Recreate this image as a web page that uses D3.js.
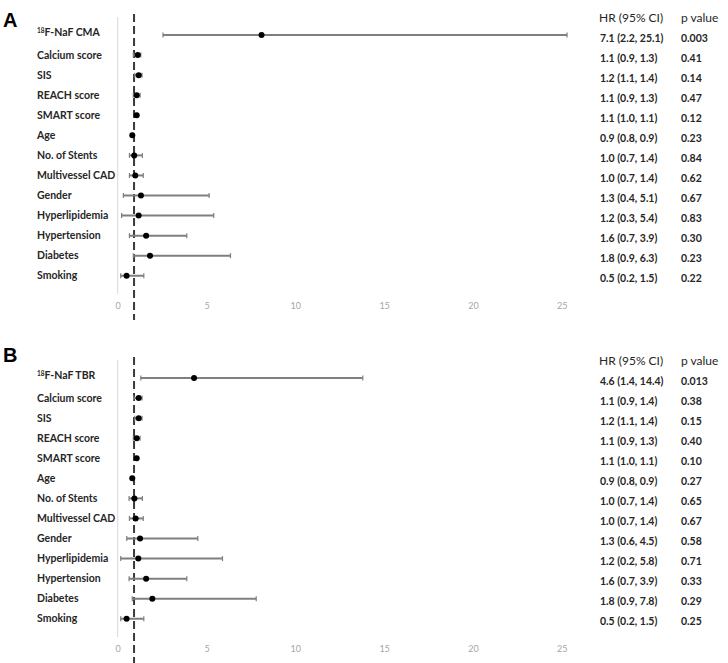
<!DOCTYPE html>
<html><head><meta charset="utf-8">
<script src="https://cdn.jsdelivr.net/npm/d3@7"></script>
<style>
html,body{margin:0;padding:0;background:#fff;}
svg{display:block;}
</style></head>
<body>
<svg id="chart" width="728" height="663"></svg>
<script>
// ---------- data ----------
const labelsA = ["18F-NaF CMA","Calcium score","SIS","REACH score","SMART score","Age","No. of Stents","Multivessel CAD","Gender","Hyperlipidemia","Hypertension","Diabetes","Smoking"];
const labelsB = ["18F-NaF TBR","Calcium score","SIS","REACH score","SMART score","Age","No. of Stents","Multivessel CAD","Gender","Hyperlipidemia","Hypertension","Diabetes","Smoking"];
// plotted hazard ratios and CI bounds (as drawn)
const hrA = [8.1, 1.13, 1.18, 1.07, 1.07, 0.82, 0.93, 0.99, 1.31, 1.18, 1.6, 1.82, 0.5];
const loA = [2.55, 0.88, 0.96, 0.88, 1.0, 0.8, 0.66, 0.66, 0.32, 0.22, 0.66, 0.88, 0.17];
const hiA = [25.3, 1.3, 1.37, 1.26, 1.1, 0.9, 1.39, 1.44, 5.15, 5.41, 3.89, 6.35, 1.47];
const hrB = [4.3, 1.18, 1.18, 1.07, 1.07, 0.82, 0.94, 1.01, 1.26, 1.16, 1.6, 1.95, 0.5];
const loB = [1.3, 0.9, 0.96, 0.88, 1.0, 0.8, 0.64, 0.66, 0.51, 0.17, 0.64, 0.82, 0.17];
const hiB = [13.8, 1.37, 1.37, 1.26, 1.1, 0.9, 1.39, 1.44, 4.51, 5.9, 3.89, 7.8, 1.47];
// table text
const ciA = ["7.1 (2.2, 25.1)","1.1 (0.9, 1.3)","1.2 (1.1, 1.4)","1.1 (0.9, 1.3)","1.1 (1.0, 1.1)","0.9 (0.8, 0.9)","1.0 (0.7, 1.4)","1.0 (0.7, 1.4)","1.3 (0.4, 5.1)","1.2 (0.3, 5.4)","1.6 (0.7, 3.9)","1.8 (0.9, 6.3)","0.5 (0.2, 1.5)"];
const pA  = ["0.003","0.41","0.14","0.47","0.12","0.23","0.84","0.62","0.67","0.83","0.30","0.23","0.22"];
const ciB = ["4.6 (1.4, 14.4)","1.1 (0.9, 1.4)","1.2 (1.1, 1.4)","1.1 (0.9, 1.3)","1.1 (1.0, 1.1)","0.9 (0.8, 0.9)","1.0 (0.7, 1.4)","1.0 (0.7, 1.4)","1.3 (0.6, 4.5)","1.2 (0.2, 5.8)","1.6 (0.7, 3.9)","1.8 (0.9, 7.8)","0.5 (0.2, 1.5)"];
const pB  = ["0.013","0.38","0.15","0.40","0.10","0.27","0.65","0.67","0.58","0.71","0.33","0.29","0.25"];
const xTicks = [0, 5, 10, 15, 20, 25];
const refValue = 0.92;
const headers = ["HR (95% CI)", "p value"];
const panelLetters = ["A", "B"];

// ---------- drawing ----------
const svg = d3.select("#chart");
const x = d3.scaleLinear().domain([0, 25]).range([117.7, 561.7]);
const FONT = "Lato, 'Open Sans', sans-serif";

function panel(cfg) {
  const g = svg.append("g").attr("transform", `translate(0,${cfg.dy})`);
  const rows = cfg.labels.map((l, i) => ({label: l, hr: cfg.hr[i], lo: cfg.lo[i], hi: cfg.hi[i], ci: cfg.ci[i], p: cfg.p[i], key: i}));
  const y = d3.scaleBand().domain(rows.map(d => d.key)).range([25, 25 + 20.06 * rows.length]).padding(0);
  const yc = k => y(k) + y.bandwidth() / 2;

  // panel letter
  g.append("text").attr("x", 3).attr("y", cfg.letterY)
    .attr("font-family", "'Liberation Sans', Arial, sans-serif").attr("font-weight", "bold")
    .attr("font-size", 20).attr("fill", "#000").text(cfg.letter);

  // vertical axis line at 0
  g.append("line").attr("x1", x(0)).attr("x2", x(0)).attr("y1", 17).attr("y2", 294)
    .attr("stroke", "#d9d9d9").attr("stroke-width", 1);

  // x axis tick labels
  const ax = g.append("g").attr("transform", "translate(0,303)")
    .call(d3.axisBottom(x).tickValues(xTicks).tickSize(0).tickPadding(0).tickFormat(d3.format("d")));
  ax.select(".domain").remove();
  ax.selectAll("text").attr("fill", "#a6a6a6").attr("font-size", 9).attr("font-family", FONT);

  // dashed reference line
  g.append("line").attr("x1", x(refValue)).attr("x2", x(refValue)).attr("y1", cfg.dashTop).attr("y2", cfg.dashBottom)
    .attr("stroke", "#3a3a3a").attr("stroke-width", 2).attr("stroke-dasharray", "8,4");

  // whiskers
  const wg = g.append("g").selectAll("g").data(rows).join("g");
  wg.append("line").attr("x1", d => x(d.lo)).attr("x2", d => x(d.hi))
    .attr("y1", d => yc(d.key)).attr("y2", d => yc(d.key))
    .attr("stroke", "#7f7f7f").attr("stroke-width", 2);
  wg.append("line").attr("x1", d => x(d.lo)).attr("x2", d => x(d.lo))
    .attr("y1", d => yc(d.key) - 2.5).attr("y2", d => yc(d.key) + 2.5)
    .attr("stroke", "#7f7f7f").attr("stroke-width", 1.2);
  wg.append("line").attr("x1", d => x(d.hi)).attr("x2", d => x(d.hi))
    .attr("y1", d => yc(d.key) - 2.5).attr("y2", d => yc(d.key) + 2.5)
    .attr("stroke", "#7f7f7f").attr("stroke-width", 1.2);
  wg.append("circle").attr("cx", d => x(d.hr)).attr("cy", d => yc(d.key)).attr("r", 3)
    .attr("fill", "#000");

  // row labels
  const lt = g.append("g").selectAll("text").data(rows).join("text")
    .attr("x", 37).attr("y", d => yc(d.key)).attr("dy", "0.35em")
    .attr("font-family", FONT).attr("font-weight", "bold").attr("font-size", 10.5).attr("fill", "#262626");
  lt.each(function(d) {
    const t = d3.select(this);
    if (d.label.startsWith("18")) {
      t.append("tspan").attr("font-size", 6.5).attr("dy", "-0.3em").text("18");
      t.append("tspan").attr("dy", "0.3em").text(d.label.slice(2));
    } else t.text(d.label);
  });

  // table
  g.append("text").attr("x", 599).attr("y", 18).attr("dy", "0.35em")
    .attr("font-family", FONT).attr("font-size", 12).attr("fill", "#262626").text(headers[0]);
  g.append("text").attr("x", 681).attr("y", 18).attr("dy", "0.35em")
    .attr("font-family", FONT).attr("font-size", 12).attr("fill", "#262626").text(headers[1]);
  g.append("g").selectAll("text").data(rows).join("text")
    .attr("x", 600).attr("y", d => yc(d.key) + 3).attr("dy", "0.35em")
    .attr("font-family", FONT).attr("font-weight", "bold").attr("font-size", 10.5).attr("fill", "#262626")
    .text(d => d.ci);
  g.append("g").selectAll("text").data(rows).join("text")
    .attr("x", 681).attr("y", d => yc(d.key) + 3).attr("dy", "0.35em")
    .attr("font-family", FONT).attr("font-weight", "bold").attr("font-size", 10.5).attr("fill", "#262626")
    .text(d => d.p);
}

panel({dy: 0, letter: panelLetters[0], letterY: 27, labels: labelsA, hr: hrA, lo: loA, hi: hiA, ci: ciA, p: pA, dashTop: 14, dashBottom: 320});
panel({dy: 343, letter: panelLetters[1], letterY: 19, labels: labelsB, hr: hrB, lo: loB, hi: hiB, ci: ciB, p: pB, dashTop: 14, dashBottom: 320});
</script>
</body></html>
